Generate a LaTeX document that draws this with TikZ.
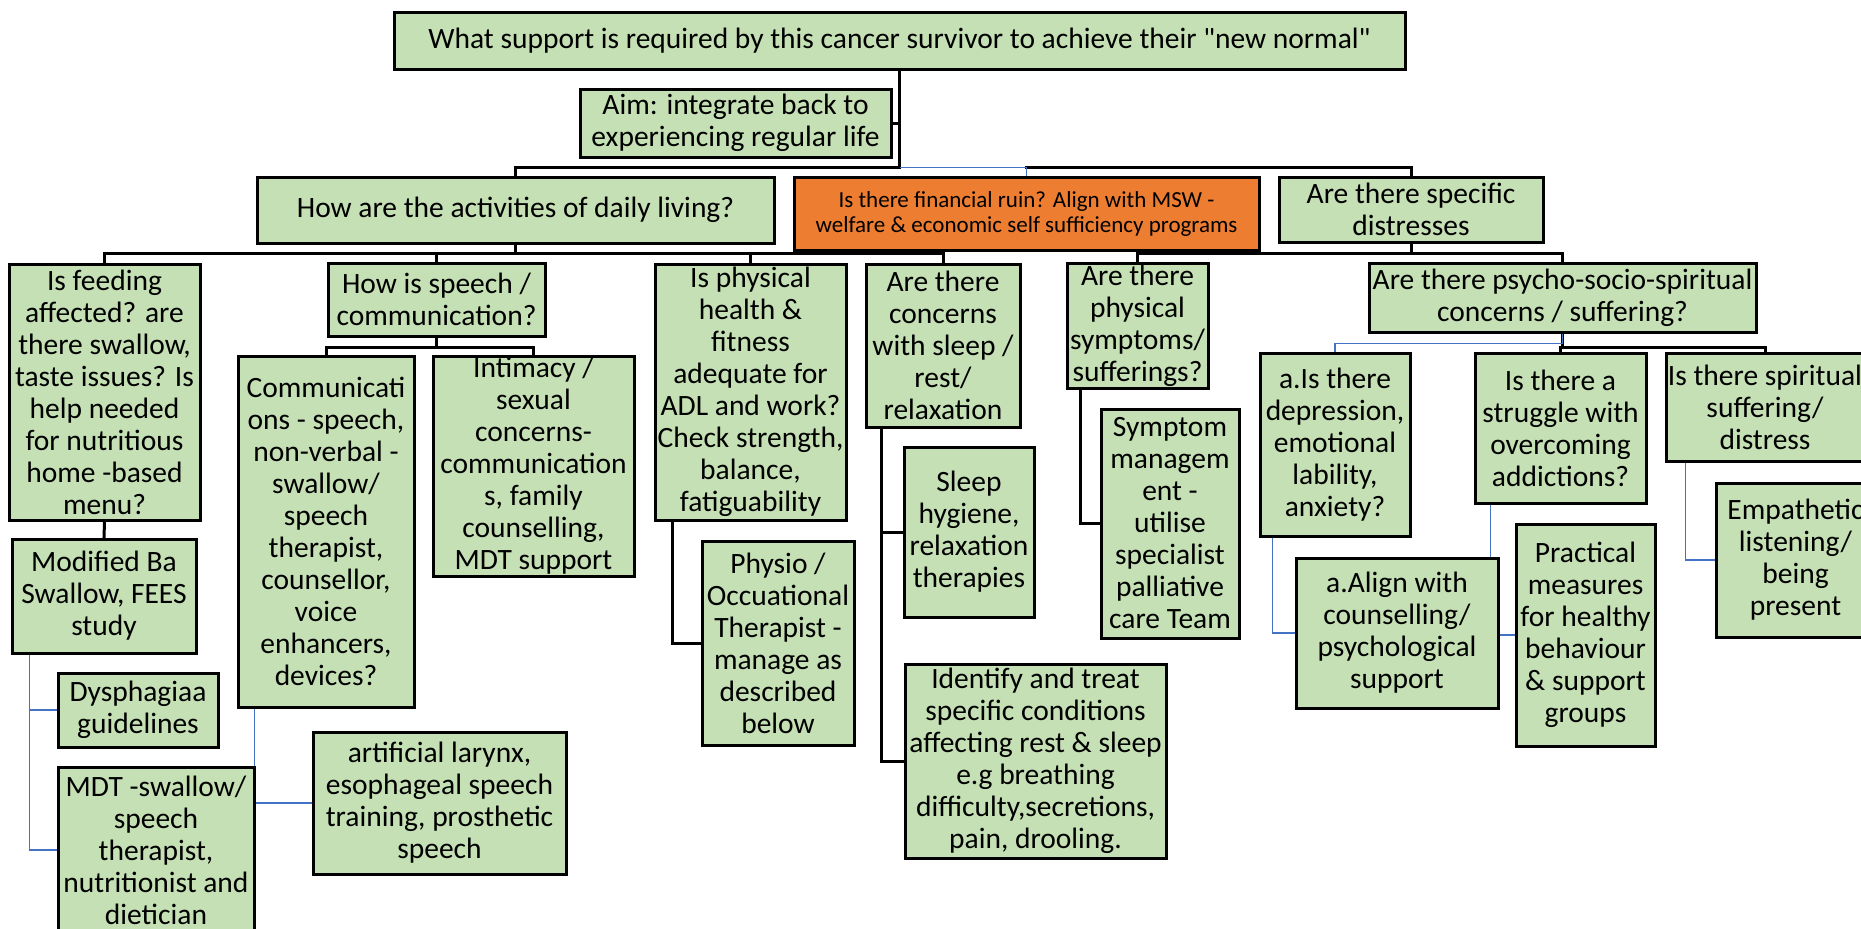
\documentclass[tikz,border=0pt]{standalone}
\usepackage{fontspec}
\setmainfont{Carlito}
\usepackage{xcolor}
\usetikzlibrary{backgrounds}
\definecolor{boxgreen}{HTML}{C5E0B4}
\definecolor{finorange}{HTML}{ED7D31}
\definecolor{linkblue}{HTML}{4472C4}

\begin{document}
\begin{tikzpicture}[x=1pt, y=-1pt,
    box/.style={rectangle, draw, line width=3pt, fill=boxgreen, align=center, inner sep=0pt, font=\fontsize{29.5}{32}\selectfont},
    finbox/.style={box, fill=finorange, font=\fontsize{23}{25}\selectfont},
    link/.style={line width=3pt, line cap=rect},
    bluelink/.style={line width=1.3pt, color=linkblue}
]
\useasboundingbox (0,0) rectangle (1861,929);

% Top question and aim
\node[box, minimum width=1011pt, minimum height=57pt] (top) at (899.5, 40.5) {What support is required by this cancer survivor to achieve their \textquotedbl new normal\textquotedbl};
\node[box, minimum width=311pt, minimum height=68pt] (aim) at (735.5, 123) {Aim: integrate back to\\experiencing regular life};

% Second level
\node[box, minimum width=517pt, minimum height=66pt] (adl) at (515.5, 210) {How are the activities of daily living?};
\node[finbox, minimum width=465pt, minimum height=73pt] (fin) at (1026.5, 213.5) {Is there financial ruin? Align with MSW -\\welfare \& economic self sufficiency programs};
\node[box, minimum width=264pt, minimum height=65pt] (dist) at (1411, 209.5) {Are there specific\\distresses};

% Activities of daily living
\node[box, minimum width=191pt, minimum height=256pt] (feed) at (104.5, 392) {Is feeding\\affected? are\\there swallow,\\taste issues? Is\\help needed\\for nutritious\\home -based\\menu?};
\node[box, minimum width=217pt, minimum height=73pt] (speech) at (436.5, 299.5) {How is speech /\\communication?};
\node[box, minimum width=191pt, minimum height=256pt] (phys) at (750.5, 392) {Is physical\\health \&\\fitness\\adequate for\\ADL and work?\\Check strength,\\balance,\\fatiguability};
\node[box, minimum width=154pt, minimum height=163pt] (sleep) at (943, 345.5) {Are there\\concerns\\with sleep /\\rest/\\relaxation};

\node[box, minimum width=184pt, minimum height=114pt] (modbox) at (104, 596) {Modified Ba\\Swallow, FEES\\study};
\node[box, minimum width=160pt, minimum height=74pt] (dysph) at (138, 710) {Dysphagiaa\\guidelines};
\node[box, minimum width=196pt, minimum height=166pt] (mdt) at (156, 850) {MDT -swallow/\\speech\\therapist,\\nutritionist and\\dietician};

\node[box, minimum width=176pt, minimum height=351pt] (comm) at (326, 531.5) {Communicati\\ons - speech,\\non-verbal -\\swallow/\\speech\\therapist,\\counsellor,\\voice\\enhancers,\\devices?};
\node[box, minimum width=201pt, minimum height=220pt] (intim) at (533.5, 466) {Intimacy /\\sexual\\concerns-\\communication\\s, family\\counselling,\\MDT support};
\node[box, minimum width=253pt, minimum height=142pt] (artif) at (439.5, 803) {artificial larynx,\\esophageal speech\\training, prosthetic\\speech};

\node[box, minimum width=152pt, minimum height=204pt] (physio) at (778, 643) {Physio /\\Occuational\\Therapist -\\manage as\\described\\below};
\node[box, minimum width=130pt, minimum height=170pt] (hyg) at (969, 532) {Sleep\\hygiene,\\relaxation\\therapies};
\node[box, minimum width=261pt, minimum height=194pt] (ident) at (1035.5, 761) {Identify and treat\\specific conditions\\affecting rest \& sleep\\e.g breathing\\difficulty,secretions,\\pain, drooling.};

% Specific distresses
\node[box, minimum width=141pt, minimum height=125pt] (symp) at (1137.5, 325.5) {Are there\\physical\\symptoms/\\sufferings?};
\node[box, minimum width=138pt, minimum height=229pt] (symbox) at (1170, 523.5) {Symptom\\managem\\ent -\\utilise\\specialist\\palliative\\care Team};
\node[box, minimum width=387pt, minimum height=69pt] (psycho) at (1562.5, 297.5) {Are there psycho-socio-spiritual\\concerns / suffering?};

\node[box, minimum width=150pt, minimum height=183pt] (depr) at (1335, 444.5) {a.Is there\\depression,\\emotional\\lability,\\anxiety?};
\node[box, minimum width=171pt, minimum height=150pt] (addic) at (1560.5, 428) {Is there a\\struggle with\\overcoming\\addictions?};
\node[box, minimum width=198pt, minimum height=108pt] (spirit) at (1765, 407) {Is there spiritual\\suffering/\\distress};
\node[box, minimum width=202pt, minimum height=150pt] (align) at (1397, 633) {a.Align with\\counselling/\\psychological\\support};
\node[box, minimum width=139pt, minimum height=222pt] (pract) at (1585.5, 635) {Practical\\measures\\for healthy\\behaviour\\\& support\\groups};
\node[box, minimum width=159pt, minimum height=154pt] (empath) at (1795.5, 560) {Empathetic\\listening/\\being\\present};

% Connectors
\begin{scope}[on background layer]
\fill[white] (0,0) rectangle (1861,929);

\draw[link] (top.south) -- ++(0,97) coordinate (j0);
\draw[link] (aim.east) -- (aim.east -| j0);
\draw[link] (j0) -| (adl.north);
\draw[link] (j0 -| fin.north) -| (dist.north);
\draw[bluelink] (j0) -| (fin.north);

\draw[link] (adl.south) -- ++(0,9) coordinate (j1);
\draw[link] (j1) -| (feed.north);
\draw[link] (j1) -| (speech.north);
\draw[link] (j1) -| (phys.north);
\draw[link] (j1) -| (sleep.north);

\draw[link] (dist.south) -- ++(0,10) coordinate (j2);
\draw[link] (j2) -| (symp.north);
\draw[link] (j2) -| (psycho.north);

\draw[link] (feed.south) -- (modbox.north);
\draw[bluelink] ([xshift=19pt]modbox.south west) |- (dysph.west);
\draw[bluelink] ([xshift=19pt]modbox.south west) |- (mdt.west);

\draw[link] (speech.south) -- ++(0,10) coordinate (j3);
\draw[link] (j3) -| (comm.north);
\draw[link] (j3) -| (intim.north);
\draw[bluelink] ([xshift=18pt]comm.south west) |- (artif.west);

\draw[link] ([xshift=19pt]phys.south west) |- (physio.west);
\draw[link] ([xshift=17pt]sleep.south west) |- (hyg.west);
\draw[link] ([xshift=17pt]sleep.south west) |- (ident.west);
\draw[link] ([xshift=15pt]symp.south west) |- (symbox.west);

\draw[link] (psycho.south) -- ++(0,14) coordinate (j4);
\draw[link] (j4) -| (addic.north);
\draw[link] (j4) -| (spirit.north);
\draw[bluelink] (psycho.south) -- ++(0,10) -| (depr.north);

\draw[bluelink] ([xshift=14pt]depr.south west) |- (align.west);
\draw[bluelink] ([xshift=17pt]addic.south west) |- (pract.west);
\draw[bluelink] ([xshift=21pt]spirit.south west) |- (empath.west);
\end{scope}

\end{tikzpicture}
\end{document}
